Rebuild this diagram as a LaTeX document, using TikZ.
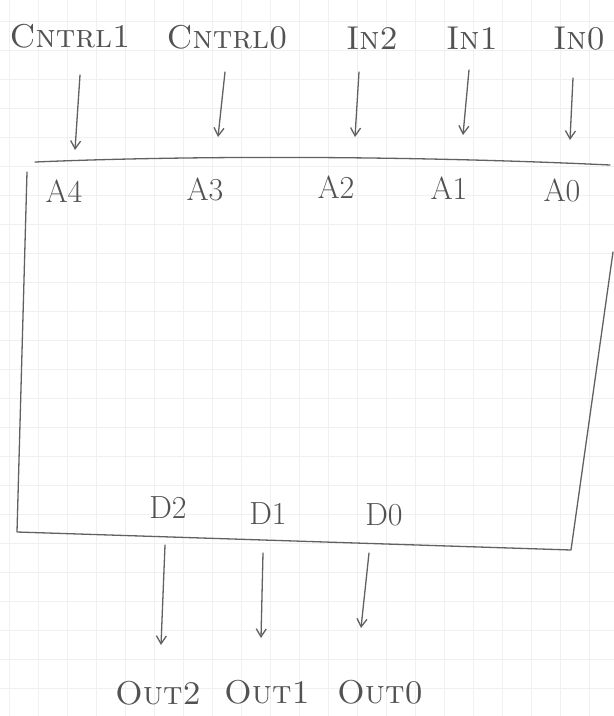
\documentclass[tikz,border=0pt]{standalone}
\usetikzlibrary{arrows.meta}
\begin{document}
\begin{tikzpicture}[x=1pt,y=-1pt,
  pencil/.style={draw=black!62, line width=1.3pt, line cap=round, line join=round},
  arr/.style={pencil, -{Straight Barb[length=8pt,width=10pt,line width=1.3pt]}},
  lbl/.style={text=black!68, inner sep=0pt, font=\fontsize{33}{35}\selectfont},
  pin/.style={text=black!68, inner sep=0pt, font=\fontsize{32}{34}\selectfont},
  gridline/.style={draw=black!6, line width=0.8pt}]
\useasboundingbox[fill=white] (0,0) rectangle (614,716);
% graph paper
\foreach \gx in {9,38,...,614} \draw[gridline] (\gx,0) -- (\gx,716);
\foreach \gy in {21,50,...,716} \draw[gridline] (0,\gy) -- (614,\gy);
% top labels
\node[lbl] (c1) at (70,36) {\textsc{Cntrl1}};
\node[lbl] (c0) at (227,37) {\textsc{Cntrl0}};
\node[lbl] (i2) at (372,38) {\textsc{In2}};
\node[lbl] (i1) at (472,38) {\textsc{In1}};
\node[lbl] (i0) at (579,39) {\textsc{In0}};
% box
\coordinate (tl) at (35,162);
\coordinate (tr) at (610,165);
\coordinate (ltop) at (27,172);
\coordinate (lbot) at (17,532);
\coordinate (rbot) at (571,550);
\coordinate (rtop) at (613,252);
\draw[pencil] (tl) .. controls (200,155) and (420,156) .. (tr);
\draw[pencil] (ltop) -- (lbot) -- (rbot) -- (rtop);
% A pins
\node[pin] (a4) at (64,191) {A4};
\node[pin] (a3) at (205,189) {A3};
\node[pin] (a2) at (336,187) {A2};
\node[pin] (a1) at (449,188) {A1};
\node[pin] (a0) at (562,190) {A0};
% top arrows
\coordinate (s4) at (80,75);  \coordinate (e4) at (75,150);
\coordinate (s3) at (225,72); \coordinate (e3) at (218,137);
\coordinate (s2) at (359,72); \coordinate (e2) at (355,137);
\coordinate (s1) at (469,70); \coordinate (e1) at (463,135);
\coordinate (s0) at (573,78); \coordinate (e0) at (570,140);
\draw[arr] (s4) -- (e4);
\draw[arr] (s3) -- (e3);
\draw[arr] (s2) -- (e2);
\draw[arr] (s1) -- (e1);
\draw[arr] (s0) -- (e0);
% D pins
\node[pin] (d2) at (168,508) {D2};
\node[pin] (d1) at (268,514) {D1};
\node[pin] (d0) at (384,515) {D0};
% bottom arrows
\coordinate (u2) at (165,545); \coordinate (v2) at (161,645);
\coordinate (u1) at (263,553); \coordinate (v1) at (261,638);
\coordinate (u0) at (369,553); \coordinate (v0) at (361,628);
\draw[arr] (u2) -- (v2);
\draw[arr] (u1) -- (v1);
\draw[arr] (u0) -- (v0);
% output labels
\node[lbl] (o2) at (158,693) {\textsc{Out2}};
\node[lbl] (o1) at (267,692) {\textsc{Out1}};
\node[lbl] (o0) at (380,692) {\textsc{Out0}};
\end{tikzpicture}
\end{document}
